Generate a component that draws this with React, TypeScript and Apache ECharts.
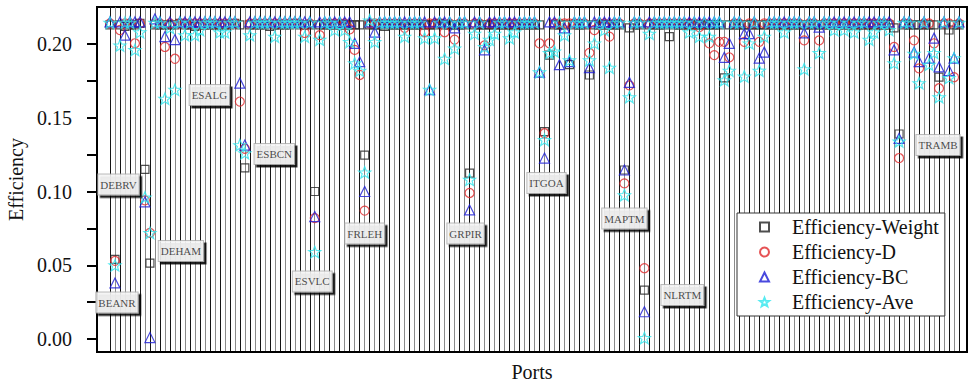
import React, { useEffect, useRef } from "react";
import * as echarts from "echarts";

// Efficiency values per port (ports in alphabetical UN/LOCODE order)
const effWeight = [
  0.213, 0.054, 0.213, 0.212, 0.213, 0.213, 0.214, 0.115, 0.0515, 0.213,
  0.213, 0.213, 0.213, 0.213, 0.214, 0.213, 0.213, 0.212, 0.213, 0.213,
  0.213, 0.213, 0.213, 0.213, 0.213, 0.214, 0.213, 0.116, 0.213, 0.213,
  0.213, 0.213, 0.212, 0.213, 0.213, 0.213, 0.213, 0.214, 0.213, 0.213,
  0.213, 0.100, 0.213, 0.213, 0.213, 0.213, 0.213, 0.213, 0.213, 0.213,
  0.213, 0.1247, 0.213, 0.213, 0.213, 0.212, 0.213, 0.213, 0.213, 0.213,
  0.213, 0.213, 0.213, 0.213, 0.213, 0.213, 0.214, 0.213, 0.213, 0.213,
  0.213, 0.213, 0.1125, 0.213, 0.213, 0.213, 0.213, 0.213, 0.213, 0.213,
  0.213, 0.213, 0.213, 0.213, 0.213, 0.213, 0.213, 0.1406, 0.1925, 0.213,
  0.213, 0.213, 0.186, 0.213, 0.213, 0.213, 0.179, 0.213, 0.213, 0.213,
  0.213, 0.213, 0.213, 0.1146, 0.211, 0.213, 0.213, 0.0332, 0.213, 0.213,
  0.213, 0.213, 0.205, 0.213, 0.213, 0.213, 0.213, 0.213, 0.213, 0.213,
  0.213, 0.213, 0.213, 0.177, 0.213, 0.213, 0.213, 0.213, 0.213, 0.213,
  0.213, 0.213, 0.213, 0.213, 0.213, 0.213, 0.213, 0.213, 0.213, 0.213,
  0.213, 0.213, 0.213, 0.213, 0.213, 0.213, 0.213, 0.213, 0.213, 0.213,
  0.213, 0.213, 0.213, 0.213, 0.213, 0.213, 0.213, 0.211, 0.139, 0.213,
  0.213, 0.213, 0.213, 0.213, 0.213, 0.213, 0.1775, 0.213, 0.2095, 0.213,
  0.213,
];

const effD = [
  0.214, 0.053, 0.2095, 0.214, 0.214, 0.2005, 0.214, 0.094, 0.072, 0.214,
  0.214, 0.198, 0.214, 0.190, 0.214, 0.214, 0.214, 0.214, 0.214, 0.214,
  0.214, 0.214, 0.214, 0.214, 0.214, 0.214, 0.161, 0.129, 0.214, 0.214,
  0.214, 0.214, 0.214, 0.214, 0.214, 0.214, 0.214, 0.214, 0.214, 0.2075,
  0.214, 0.082, 0.206, 0.214, 0.214, 0.214, 0.214, 0.214, 0.210, 0.196,
  0.179, 0.087, 0.214, 0.214, 0.214, 0.214, 0.214, 0.214, 0.214, 0.211,
  0.214, 0.214, 0.214, 0.208, 0.214, 0.214, 0.214, 0.208, 0.214, 0.203,
  0.214, 0.214, 0.099, 0.214, 0.214, 0.199, 0.214, 0.214, 0.214, 0.214,
  0.214, 0.214, 0.214, 0.214, 0.214, 0.214, 0.2005, 0.1395, 0.2005, 0.214,
  0.214, 0.214, 0.214, 0.214, 0.214, 0.214, 0.194, 0.2095, 0.214, 0.214,
  0.205, 0.214, 0.214, 0.1055, 0.172, 0.214, 0.214, 0.048, 0.214, 0.214,
  0.214, 0.214, 0.214, 0.214, 0.214, 0.214, 0.214, 0.214, 0.2115, 0.214,
  0.2005, 0.1925, 0.2015, 0.2015, 0.191, 0.214, 0.214, 0.2015, 0.214, 0.214,
  0.2015, 0.214, 0.214, 0.214, 0.214, 0.214, 0.214, 0.214, 0.214, 0.2025,
  0.214, 0.214, 0.2025, 0.214, 0.214, 0.214, 0.214, 0.214, 0.214, 0.214,
  0.214, 0.214, 0.214, 0.214, 0.214, 0.214, 0.214, 0.198, 0.1227, 0.214,
  0.214, 0.2025, 0.1835, 0.214, 0.214, 0.2005, 0.170, 0.214, 0.214, 0.1775,
  0.214,
];

const effBC = [
  0.215, 0.038, 0.215, 0.206, 0.215, 0.215, 0.215, 0.093, 0.001, 0.217,
  0.215, 0.205, 0.215, 0.203, 0.215, 0.215, 0.215, 0.215, 0.215, 0.215,
  0.215, 0.215, 0.215, 0.215, 0.215, 0.215, 0.1735, 0.1315, 0.215, 0.215,
  0.215, 0.215, 0.215, 0.215, 0.215, 0.215, 0.215, 0.215, 0.215, 0.215,
  0.215, 0.083, 0.215, 0.215, 0.215, 0.215, 0.215, 0.215, 0.215, 0.2005,
  0.188, 0.100, 0.215, 0.208, 0.215, 0.215, 0.215, 0.215, 0.215, 0.215,
  0.215, 0.215, 0.215, 0.215, 0.169, 0.215, 0.215, 0.215, 0.215, 0.211,
  0.215, 0.215, 0.0875, 0.215, 0.215, 0.196, 0.215, 0.215, 0.215, 0.215,
  0.215, 0.215, 0.215, 0.215, 0.215, 0.215, 0.181, 0.1227, 0.215, 0.215,
  0.186, 0.211, 0.188, 0.215, 0.215, 0.215, 0.184, 0.215, 0.215, 0.215,
  0.215, 0.215, 0.215, 0.1146, 0.174, 0.215, 0.215, 0.0185, 0.215, 0.215,
  0.215, 0.215, 0.215, 0.215, 0.215, 0.215, 0.215, 0.215, 0.215, 0.215,
  0.215, 0.215, 0.215, 0.191, 0.2005, 0.215, 0.215, 0.207, 0.207, 0.215,
  0.1905, 0.1945, 0.215, 0.215, 0.215, 0.215, 0.215, 0.215, 0.215, 0.2075,
  0.215, 0.215, 0.2115, 0.215, 0.215, 0.215, 0.215, 0.215, 0.215, 0.215,
  0.215, 0.215, 0.215, 0.215, 0.215, 0.215, 0.215, 0.196, 0.136, 0.215,
  0.215, 0.1945, 0.188, 0.215, 0.1905, 0.204, 0.1845, 0.215, 0.182, 0.1905,
  0.215,
];

const effAve = [
  0.2145, 0.050, 0.199, 0.2145, 0.2145, 0.196, 0.208, 0.096, 0.072, 0.2145,
  0.2145, 0.163, 0.211, 0.169, 0.2145, 0.206, 0.2145, 0.206, 0.2095, 0.2145,
  0.2145, 0.2145, 0.208, 0.208, 0.2145, 0.2145, 0.1315, 0.126, 0.206, 0.2145,
  0.2145, 0.2145, 0.2145, 0.205, 0.2145, 0.2145, 0.2145, 0.2145, 0.2145, 0.205,
  0.2145, 0.059, 0.203, 0.2145, 0.2145, 0.2095, 0.2145, 0.2095, 0.2015, 0.187,
  0.182, 0.113, 0.216, 0.2015, 0.2145, 0.2145, 0.2145, 0.2145, 0.2145, 0.205,
  0.2145, 0.2145, 0.2145, 0.204, 0.169, 0.204, 0.2145, 0.190, 0.2145, 0.197,
  0.2145, 0.2145, 0.108, 0.207, 0.2145, 0.198, 0.203, 0.207, 0.2145, 0.2145,
  0.204, 0.208, 0.2145, 0.2145, 0.2145, 0.2145, 0.181, 0.135, 0.194, 0.195,
  0.2145, 0.206, 0.189, 0.2145, 0.2145, 0.2145, 0.189, 0.2005, 0.2145, 0.2095,
  0.184, 0.2145, 0.2145, 0.0976, 0.164, 0.2145, 0.2145, 0.0007, 0.207, 0.2145,
  0.2145, 0.2145, 0.2145, 0.2145, 0.2145, 0.2145, 0.208, 0.2145, 0.205, 0.2145,
  0.205, 0.2145, 0.2145, 0.1755, 0.182, 0.2145, 0.2145, 0.178, 0.2005, 0.2145,
  0.182, 0.205, 0.2145, 0.2145, 0.2145, 0.208, 0.2145, 0.2145, 0.2145, 0.183,
  0.2145, 0.2145, 0.194, 0.2145, 0.2145, 0.2095, 0.2145, 0.2095, 0.2145, 0.208,
  0.2145, 0.2145, 0.203, 0.208, 0.2145, 0.2145, 0.2095, 0.187, 0.134, 0.2145,
  0.2145, 0.1935, 0.1735, 0.2145, 0.186, 0.194, 0.164, 0.2145, 0.177, 0.1905,
  0.2145,
];

// Labelled ports (name, port index)
const labelledPorts: [string, number][] = [
  ["BEANR", 1], ["DEBRV", 7], ["DEHAM", 8], ["ESALG", 26], ["ESBCN", 27],
  ["ESVLC", 41], ["FRLEH", 51], ["GRPIR", 72], ["ITGOA", 87], ["MAPTM", 103],
  ["NLRTM", 107], ["TRAMB", 158],
];

// Tick values
const yTickValues = [0, 0.025, 0.05, 0.075, 0.1, 0.125, 0.15, 0.175, 0.2];
const yLabelValues = [0, 0.05, 0.1, 0.15, 0.2];

const seriesNames = ["Efficiency-Weight", "Efficiency-D", "Efficiency-BC", "Efficiency-Ave"];

// Layout: where each port's label box sits (axis units)
const labelBoxAt: Record<string, [number, number]> = {
  BEANR: [1.4, 0.0247], DEBRV: [1.7, 0.1047], DEHAM: [14.2, 0.0597],
  ESALG: [19.9, 0.1654], ESBCN: [32.9, 0.1254], ESVLC: [40.5, 0.039],
  FRLEH: [51.0, 0.0715], GRPIR: [71.2, 0.0715], ITGOA: [87.4, 0.1058],
  MAPTM: [103.0, 0.0817], NLRTM: [114.6, 0.0298], TRAMB: [165.8, 0.1315],
};

const SERIF = "Liberation Serif";
const STAR = "path://M12,1 L14.9,8.6 L23,8.9 L16.6,13.9 L18.9,21.8 L12,17.2 L5.1,21.8 L7.4,13.9 L1,8.9 L9.1,8.6 Z";

export default function App() {
  const ref = useRef<HTMLDivElement>(null);
  useEffect(() => {
    if (!ref.current) return;
    const chart = echarts.init(ref.current, null, { renderer: "svg" });
    const portPositions = effWeight.map((_, i) => i);
    const toPts = (arr: number[]) => arr.map((v, i) => [i, v]);
    const mk = (name: string, data: number[], symbol: string, size: number, color: string) => ({
      name,
      type: "scatter",
      data: toPts(data),
      symbol,
      symbolSize: size,
      symbolKeepAspect: true,
      clip: false,
      itemStyle: { color: "transparent", borderColor: color, borderWidth: 1.2 },
      emphasis: { disabled: true },
    });
    const option: any = {
      animation: false,
      backgroundColor: "#fff",
      textStyle: { fontFamily: SERIF },
      grid: {
        left: 97, right: 5, top: 7, bottom: 33,
        outerBoundsMode: "none", containLabel: false,
        show: true, borderColor: "#000", borderWidth: 2, backgroundColor: "transparent",
      },
      xAxis: {
        type: "value", min: -2.6, max: 171.6,
        name: "Ports", nameLocation: "middle", nameGap: 10,
        nameTextStyle: { fontFamily: SERIF, fontSize: 20, color: "#111" },
        axisLine: { show: true, onZero: false, lineStyle: { color: "#000", width: 2 } },
        axisTick: { show: false, customValues: portPositions },
        axisLabel: { show: false },
        splitLine: { show: true, lineStyle: { color: ["#151515", "#8a8a8a"], width: 1 } },
      },
      yAxis: {
        type: "value", min: -0.0088, max: 0.2251,
        name: "Efficiency", nameLocation: "middle", nameGap: 62,
        nameTextStyle: { fontFamily: SERIF, fontSize: 20, color: "#111" },
        axisLine: { show: true, onZero: false, lineStyle: { color: "#000", width: 2 } },
        axisTick: { show: true, inside: false, length: 10, customValues: yTickValues, lineStyle: { color: "#000", width: 2 } },
        axisLabel: {
          customValues: yLabelValues, margin: 25,
          formatter: (v: number) => v.toFixed(2),
          fontFamily: SERIF, fontSize: 20, color: "#111",
        },
        splitLine: { show: false },
      },
      legend: {
        orient: "vertical", left: 737, top: 213,
        padding: [4, 6, 4, 22], itemWidth: 9, itemHeight: 9, itemGap: 5,
        borderColor: "#333", borderWidth: 1, backgroundColor: "#fff",
        textStyle: { fontFamily: SERIF, fontSize: 20, color: "#111", lineHeight: 20, padding: [0, 0, 0, 18] },
        data: seriesNames,
      },
      series: [
        mk(seriesNames[0], effWeight, "rect", 8, "#222222"),
        mk(seriesNames[1], effD, "circle", 9, "#e0282a"),
        mk(seriesNames[2], effBC, "triangle", 10, "#1c1cd6"),
        mk(seriesNames[3], effAve, STAR, 12, "#2ee6ee"),
        {
          name: "labels",
          type: "scatter",
          silent: true,
          symbolSize: 1,
          itemStyle: { color: "transparent" },
          z: 10,
          clip: false,
          data: labelledPorts.map(([n]) => ({ name: n, value: labelBoxAt[n] })),
          label: {
            show: true, position: "inside",
            formatter: (p: any) => p.name,
            fontFamily: SERIF, fontSize: 11, color: "#1a1a1a",
            backgroundColor: "#fff", borderColor: "#aaa", borderWidth: 1,
            padding: [5, 2, 4, 2],
            shadowColor: "#000", shadowOffsetX: 2.5, shadowOffsetY: 2.5, shadowBlur: 0,
          },
        },
      ],
    };
    chart.setOption(option);
    return () => chart.dispose();
  }, []);
  return <div ref={ref} style={{ position: "fixed", left: 0, top: 0, width: 972, height: 385 }} />;
}
